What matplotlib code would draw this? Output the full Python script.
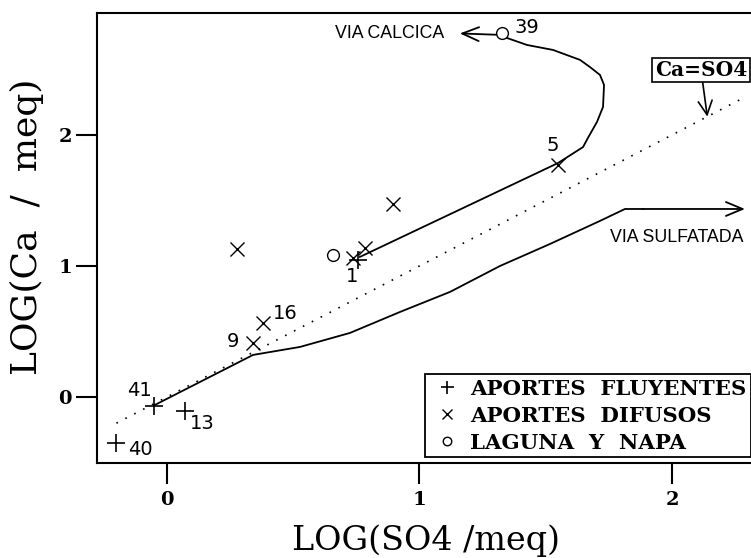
import matplotlib
matplotlib.use('Agg')
import matplotlib.pyplot as plt

# ---------------- data ----------------
fluyentes_x = [-0.05, 0.07, -0.20, 0.756]
fluyentes_y = [-0.07, -0.11, -0.35, 1.045]
fluyentes_lbl = ['41', '13', '40', '1']

difusos_x = [0.277, 0.895, 0.784, 0.737, 1.549, 0.38, 0.34]
difusos_y = [1.13, 1.47, 1.14, 1.06, 1.77, 0.565, 0.41]
difusos_lbl = ['', '', '', '', '5', '16', '9']

laguna_x = [0.657, 1.327]
laguna_y = [1.08, 2.78]
laguna_lbl = ['', '39']

calcica_x = [0.764, 1.549, 1.648, 1.667, 1.703, 1.727, 1.731, 1.715, 1.675, 1.636, 1.529, 1.426, 1.347]
calcica_y = [1.069, 1.786, 1.908, 1.977, 2.099, 2.214, 2.382, 2.458, 2.519, 2.573, 2.649, 2.687, 2.740]

sulfatada_x = [-0.048, 0.341, 0.527, 0.725, 0.923, 1.121, 1.319, 1.517, 1.715, 1.814, 1.885]
sulfatada_y = [-0.061, 0.321, 0.382, 0.489, 0.649, 0.802, 1.0, 1.168, 1.344, 1.435, 1.435]

ca_so4_x = [-0.2, 2.27]
ca_so4_y = [-0.2, 2.27]

x_ticks = [0, 1, 2]
y_ticks = [0, 1, 2]

legend_labels = ['APORTES  FLUYENTES', 'APORTES  DIFUSOS', 'LAGUNA  Y  NAPA']

# ---------------- figure ----------------
fig = plt.figure(figsize=(7.51, 5.58), dpi=100)
ax = fig.add_axes([97/751, 95/558, 654/751, 450/558])
ax.set_xlim(-0.277, 2.313)
ax.set_ylim(-0.504, 2.931)

# reference line Ca = SO4
ax.plot(ca_so4_x, ca_so4_y, color='black', lw=1.2, linestyle=(0, (1, 5)))

# evolution paths
ax.plot(calcica_x, calcica_y, color='black', lw=1.3)
ax.plot(sulfatada_x, sulfatada_y, color='black', lw=1.3)

arrow_kw = dict(arrowstyle='->,head_length=0.6,head_width=0.25', color='black', lw=1.3,
                shrinkA=0, shrinkB=0, mutation_scale=20)
ax.annotate('', xy=(2.289, sulfatada_y[-1]), xytext=(sulfatada_x[-1], sulfatada_y[-1]),
            arrowprops=arrow_kw)
ax.annotate('', xy=(1.16, 2.775), xytext=(1.305, 2.765), arrowprops=arrow_kw)

# points
h1, = ax.plot(fluyentes_x, fluyentes_y, linestyle='none', marker='+', ms=13, mew=1.2,
              color='black', label=legend_labels[0])
h2, = ax.plot(difusos_x, difusos_y, linestyle='none', marker='x', ms=10, mew=1.0,
              color='black', label=legend_labels[1])
h3, = ax.plot(laguna_x, laguna_y, linestyle='none', marker='o', ms=8.5, mew=1.0,
              color='black', mfc='none', label=legend_labels[2])

# point labels (offsets in points)
offsets = {'41': (-11, 11), '13': (13, -9), '40': (17, -5), '1': (-4, -12),
           '5': (-4, 14), '16': (16, 7), '9': (-14, 1), '39': (18, 4)}
for xs, ys, ls in [(fluyentes_x, fluyentes_y, fluyentes_lbl),
                   (difusos_x, difusos_y, difusos_lbl),
                   (laguna_x, laguna_y, laguna_lbl)]:
    for x, y, l in zip(xs, ys, ls):
        if l:
            ax.annotate(l, xy=(x, y), xytext=offsets[l], textcoords='offset points',
                        ha='center', va='center', fontsize=14, family='DejaVu Sans')

# texts
ax.text(0.883, 2.771, 'VIA CALCICA', ha='center', va='center', fontsize=12.8,
        family='Liberation Sans')
ax.text(2.02, 1.214, 'VIA SULFATADA', ha='center', va='center', fontsize=12.8,
        family='Liberation Sans')
ax.annotate('Ca=SO4', xy=(2.14, 2.14), xytext=(2.115, 2.496), ha='center', va='center',
            fontsize=14.5, family='DejaVu Serif', fontweight='bold',
            bbox=dict(boxstyle='square,pad=0.12', fc='white', ec='black', lw=1.2),
            arrowprops=dict(arrowstyle='->,head_length=0.5,head_width=0.25', color='black',
                            lw=1.2, shrinkA=0, shrinkB=0, mutation_scale=20))

# axes styling
for s in ['left', 'bottom', 'top']:
    ax.spines[s].set_linewidth(1.5)
ax.spines['right'].set_visible(False)
ax.set_xticks(x_ticks)
ax.set_yticks(y_ticks)
ax.set_xticklabels([str(t) for t in x_ticks])
ax.set_yticklabels([str(t) for t in y_ticks])
ax.tick_params(direction='out', length=15, width=1.5)
ax.tick_params(axis='x', pad=5)
ax.tick_params(axis='y', pad=3)
for lab in ax.get_xticklabels() + ax.get_yticklabels():
    lab.set_fontfamily('DejaVu Serif')
    lab.set_fontweight('bold')
    lab.set_fontsize(14)

fig.text(426/751, 1 - 541/558, 'LOG(SO4 /meq)', ha='center', va='center',
         fontsize=24, family='DejaVu Serif')
fig.text(27/751, 1 - 227/558, 'LOG(Ca  /  meq)', ha='center', va='center',
         rotation=90, fontsize=26, family='DejaVu Serif')

leg = ax.legend(handles=[h1, h2, h3], loc='upper left',
                bbox_to_anchor=((425 - 97) / 654, (463 - 374) / 450),
                borderaxespad=0, borderpad=0.22, handlelength=1.6, handletextpad=0.3,
                labelspacing=0.33, markerscale=0.72, fancybox=False, framealpha=1,
                edgecolor='black', prop=dict(family='DejaVu Serif', weight='bold', size=15.3))
leg.get_frame().set_linewidth(1.3)

fig.savefig('out.png', dpi=100)
